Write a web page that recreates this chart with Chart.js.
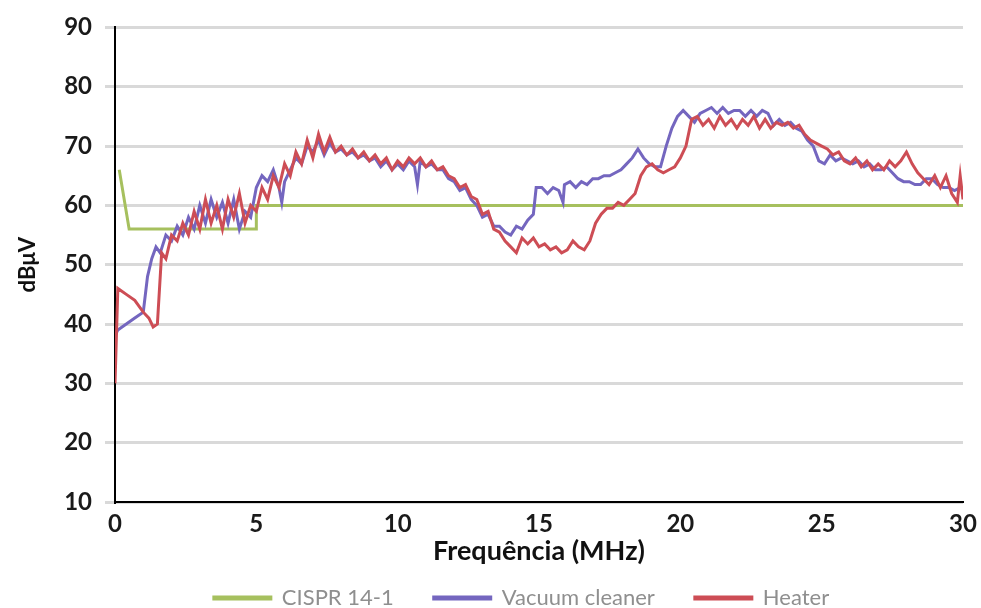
<!DOCTYPE html>
<html>
<head>
<meta charset="utf-8">
<script src="https://cdn.jsdelivr.net/npm/chart.js@4.4.1/dist/chart.umd.min.js"></script>
<style>
  html, body { margin: 0; padding: 0; background: #fff; }
  #wrap { width: 981px; height: 608px; }
</style>
</head>
<body>
<div id="wrap"><canvas id="emiChart" width="981" height="608"></canvas></div>
<script>
// CISPR 14-1 limit
const cisprFreq = [0.15, 0.5, 5, 5, 30];
const cisprDb = [66, 56, 56, 60, 60];

// Vacuum cleaner
const vacuumFreq = [
  0, 0.1, 0.4, 0.7, 1.0, 1.15, 1.3, 1.45, 1.6, 1.8, 2.0, 2.2, 2.4, 2.6, 2.8, 3.0, 3.2, 3.4, 3.6, 3.8,
  4.0, 4.2, 4.4, 4.6, 4.8, 5.0, 5.2, 5.4, 5.6, 5.8, 5.9, 6.0, 6.2, 6.4, 6.6, 6.8, 7.0, 7.2, 7.4, 7.6,
  7.8, 8.0, 8.2, 8.4, 8.6, 8.8, 9.0, 9.2, 9.4, 9.6, 9.8, 10.0, 10.2, 10.4, 10.6, 10.7, 10.8, 11.0, 11.2, 11.4,
  11.6, 11.8, 12.0, 12.2, 12.4, 12.6, 12.8, 13.0, 13.2, 13.4, 13.6, 13.8, 14.0, 14.2, 14.4, 14.6, 14.8, 14.9, 15.1, 15.3,
  15.5, 15.7, 15.85, 15.9, 16.1, 16.3, 16.5, 16.7, 16.9, 17.1, 17.3, 17.5, 17.7, 17.9, 18.1, 18.3, 18.5, 18.7, 18.9, 19.1,
  19.3, 19.5, 19.7, 19.9, 20.1, 20.3, 20.5, 20.7, 20.9, 21.1, 21.3, 21.5, 21.7, 21.9, 22.1, 22.3, 22.5, 22.7, 22.9, 23.1,
  23.3, 23.5, 23.7, 23.9, 24.1, 24.3, 24.5, 24.7, 24.9, 25.1, 25.3, 25.5, 25.7, 25.9, 26.1, 26.3, 26.5, 26.7, 26.9, 27.1,
  27.3, 27.5, 27.7, 27.9, 28.1, 28.3, 28.5, 28.7, 28.9, 29.1, 29.3, 29.5, 29.7, 29.9, 30.0
];
const vacuumDb = [
  38, 39, 40, 41, 42, 48, 51, 53, 52, 55, 54, 56.5, 55, 58, 56, 60, 57, 61, 58, 60.5,
  57, 61, 56, 59, 58, 63, 65, 64, 66, 63, 60.5, 64, 66, 68, 67, 70, 69, 71, 68.5, 70.5,
  69, 69.5, 68.5, 69, 68, 68.5, 67.5, 68, 66.5, 67.5, 66, 67, 66, 67.5, 66.5, 63.5, 67.5, 66.5, 67, 66,
  66, 64.5, 64, 62.5, 63, 61, 60, 58, 58.5, 56.5, 56.5, 55.5, 55, 56.5, 56, 57.5, 58.5, 63, 63, 62,
  63, 62.5, 60.5, 63.5, 64, 63, 64, 63.5, 64.5, 64.5, 65, 65, 65.5, 66, 67, 68, 69.5, 68, 67, 66.5,
  66.5, 70, 73, 75, 76, 75, 74, 75.5, 76, 76.5, 75.5, 76.5, 75.5, 76, 76, 75, 76, 75, 76, 75.5,
  73.5, 74.5, 73.5, 74, 73, 72.5, 71, 70, 67.5, 67, 68.5, 67.5, 68, 67.5, 67, 67.5, 66.5, 67, 66, 66,
  66.5, 65.5, 64.5, 64, 64, 63.5, 63.5, 64.5, 64.5, 63.5, 63, 63, 62.5, 63, 62.5
];

// Heater
const heaterFreq = [
  0, 0.1, 0.4, 0.7, 1.0, 1.2, 1.35, 1.5, 1.65, 1.8, 2.0, 2.2, 2.4, 2.6, 2.8, 3.0, 3.2, 3.4, 3.6, 3.8,
  4.0, 4.2, 4.4, 4.6, 4.8, 5.0, 5.2, 5.4, 5.6, 5.8, 6.0, 6.2, 6.4, 6.6, 6.8, 7.0, 7.2, 7.4, 7.6, 7.8,
  8.0, 8.2, 8.4, 8.6, 8.8, 9.0, 9.2, 9.4, 9.6, 9.8, 10.0, 10.2, 10.4, 10.6, 10.8, 11.0, 11.2, 11.4, 11.6, 11.8,
  12.0, 12.2, 12.4, 12.6, 12.8, 13.0, 13.2, 13.4, 13.6, 13.8, 14.0, 14.2, 14.4, 14.6, 14.8, 15.0, 15.2, 15.4, 15.6, 15.8,
  16.0, 16.2, 16.4, 16.6, 16.8, 17.0, 17.2, 17.4, 17.6, 17.8, 18.0, 18.2, 18.4, 18.6, 18.8, 19.0, 19.2, 19.4, 19.6, 19.8,
  20.0, 20.2, 20.4, 20.6, 20.8, 21.0, 21.2, 21.4, 21.6, 21.8, 22.0, 22.2, 22.4, 22.6, 22.8, 23.0, 23.2, 23.4, 23.6, 23.8,
  24.0, 24.2, 24.4, 24.6, 24.8, 25.0, 25.2, 25.4, 25.6, 25.8, 26.0, 26.2, 26.4, 26.6, 26.8, 27.0, 27.2, 27.4, 27.6, 27.8,
  28.0, 28.2, 28.4, 28.6, 28.8, 29.0, 29.2, 29.4, 29.6, 29.8, 29.9, 30.0
];
const heaterDb = [
  30, 46, 45, 44, 42, 41, 39.5, 40, 52, 51, 55, 54, 57, 55, 59, 56, 61, 57, 60, 56,
  61, 58, 62, 57, 60, 59, 63, 61, 65, 63, 67, 65, 69, 67, 71, 68, 72, 69, 71.5, 69,
  70, 68.5, 69.5, 68, 69, 67.5, 68.5, 67, 68, 66, 67.5, 66.5, 68, 67, 68, 66.5, 67.5, 66, 66.5, 65,
  64.5, 63, 63.5, 61.5, 61, 58.5, 59, 56, 55.5, 54, 53, 52, 54.5, 53.5, 54.5, 53, 53.5, 52.5, 53, 52,
  52.5, 54, 53, 52.5, 54, 57, 58.5, 59.5, 59.5, 60.5, 60, 61, 62, 65, 66.5, 67, 66, 65.5, 66, 66.5,
  68, 70, 74.5, 75, 73.5, 74.5, 73, 75, 73.5, 74.5, 73, 74.5, 73.5, 75, 73, 74.5, 73, 74, 73.5, 74,
  73, 73.5, 72, 71, 70.5, 70, 69.5, 68.5, 69, 67.5, 67, 68, 66.5, 67.5, 66, 67, 66, 67.5, 66.5, 67.5,
  69, 67, 65.5, 64.5, 63.5, 65, 63, 65, 62, 60.5, 65, 61
];

const yTicks = [10, 20, 30, 40, 50, 60, 70, 80, 90];
const xTicks = [0, 5, 10, 15, 20, 25, 30];

const toPoints = (xs, ys) => xs.map((x, i) => ({ x, y: ys[i] }));

// the legend in the original sits low and a bit right of centre
const legendNudge = {
  id: 'legendNudge',
  afterLayout(chart) {
    const lg = chart.legend;
    const pad = lg.options.labels.padding;
    const dy = 598 - (lg.top + pad + 11);
    lg.top += dy;
    lg.bottom += dy;
    lg.left += 40;
    lg.right += 40;
  }
};

Chart.defaults.font.family = 'Lato, "Open Sans", sans-serif';

const ctx = document.getElementById('emiChart').getContext('2d');
new Chart(ctx, {
  type: 'line',
  data: {
    datasets: [
      {
        label: 'CISPR 14-1',
        data: toPoints(cisprFreq, cisprDb),
        borderColor: '#a6c05e',
        backgroundColor: '#a6c05e',
        borderWidth: 3,
        pointRadius: 0,
        order: 2
      },
      {
        label: 'Vacuum cleaner',
        data: toPoints(vacuumFreq, vacuumDb),
        borderColor: '#7466bf',
        backgroundColor: '#7466bf',
        borderWidth: 3,
        pointRadius: 0,
        order: 1
      },
      {
        label: 'Heater',
        data: toPoints(heaterFreq, heaterDb),
        borderColor: '#cd4d55',
        backgroundColor: '#cd4d55',
        borderWidth: 3,
        pointRadius: 0,
        order: 0
      }
    ]
  },
  options: {
    responsive: false,
    animation: false,
    layout: { padding: { top: 27, right: 18, bottom: -50, left: 0 } },
    plugins: {
      tooltip: { enabled: false },
      legend: {
        position: 'bottom',
        labels: {
          sort: (a, b) => a.datasetIndex - b.datasetIndex,
          boxWidth: 57,
          boxHeight: 2,
          padding: 40,
          color: '#8f8f8f',
          font: { size: 22 }
        }
      }
    },
    scales: {
      x: {
        type: 'linear',
        min: 0,
        max: 30,
        afterBuildTicks: scale => { scale.ticks = xTicks.map(v => ({ value: v })); },
        afterFit: scale => {
          scale.height = 84;
          scale.paddingLeft = 0;
          scale.paddingRight = 0;
        },
        grid: { display: false, drawTicks: false },
        border: { display: true, color: '#000', width: 2 },
        ticks: { padding: 8, color: '#1a1a1a', font: { size: 24, weight: 'bold' } },
        title: {
          display: true,
          text: 'Frequência (MHz)',
          color: '#111',
          font: { size: 27, weight: 'bold' },
          padding: { top: 0, bottom: 19 }
        }
      },
      y: {
        min: 10,
        max: 90,
        afterBuildTicks: scale => { scale.ticks = yTicks.map(v => ({ value: v })); },
        afterFit: scale => { scale.width = 115; },
        grid: { color: '#d9d9d9', lineWidth: 3, tickLength: 10 },
        border: { display: true, color: '#000', width: 2 },
        ticks: { padding: 13, color: '#1a1a1a', font: { size: 24, weight: 'bold' } },
        title: {
          display: true,
          text: 'dBμV',
          color: '#111',
          font: { size: 22, weight: 'bold' },
          padding: { top: 15, bottom: 0 }
        }
      }
    }
  },
  plugins: [legendNudge]
});
</script>
</body>
</html>
